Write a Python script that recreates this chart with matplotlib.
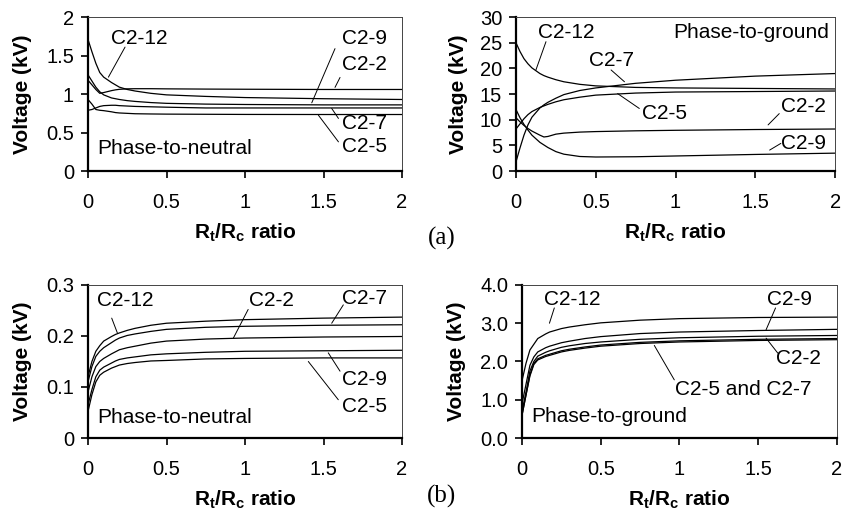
# -*- coding:utf-8 -*-
import numpy as np
import matplotlib as mpl
import matplotlib.pyplot as plt

mpl.rcParams['font.family'] = ['Liberation Sans', 'DejaVu Sans']
mpl.rcParams['mathtext.fontset'] = 'custom'
mpl.rcParams['mathtext.bf'] = 'Liberation Sans:bold'
mpl.rcParams['mathtext.rm'] = 'Liberation Sans'

# Rt/Rc ratio grid (shared by all panels)
ratio = [0, 0.025, 0.05, 0.075, 0.1, 0.15, 0.175, 0.2, 0.25, 0.3, 0.4, 0.5, 0.75, 1.0, 1.5, 2.0]

# (a) phase-to-neutral, kV
an_c212 = [1.71, 1.55, 1.40, 1.28, 1.22, 1.15, 1.12, 1.09, 1.06, 1.04, 1.01, 0.99, 0.97, 0.955, 0.94, 0.93]
an_c22 = [1.18, 1.12, 1.06, 1.01, 1.02, 1.045, 1.055, 1.062, 1.068, 1.07, 1.07, 1.068, 1.065, 1.063, 1.06, 1.06]
an_c29 = [1.25, 1.17, 1.09, 1.03, 0.99, 0.95, 0.94, 0.93, 0.915, 0.905, 0.89, 0.88, 0.87, 0.865, 0.86, 0.86]
an_c27 = [0.79, 0.80, 0.82, 0.84, 0.85, 0.855, 0.855, 0.85, 0.845, 0.84, 0.835, 0.83, 0.82, 0.82, 0.82, 0.82]
an_c25 = [0.93, 0.87, 0.80, 0.79, 0.785, 0.77, 0.76, 0.755, 0.75, 0.745, 0.742, 0.74, 0.738, 0.736, 0.735, 0.735]

# (a) phase-to-ground, kV
ag_c212 = [25.0, 23.3, 21.9, 20.9, 20.1, 19.0, 18.6, 18.3, 17.8, 17.4, 16.9, 16.6, 16.3, 16.2, 16.1, 16.0]
ag_c27 = [1.8, 4.5, 7.0, 9.0, 10.5, 12.3, 12.9, 13.4, 14.2, 14.9, 15.7, 16.2, 17.1, 17.7, 18.5, 19.0]
ag_c25 = [8.2, 9.2, 10.2, 11.0, 11.6, 12.4, 12.7, 13.0, 13.5, 13.9, 14.4, 14.8, 15.2, 15.4, 15.5, 15.6]
ag_c22 = [10.4, 9.6, 8.9, 8.3, 7.8, 7.0, 6.65, 6.75, 7.2, 7.4, 7.6, 7.7, 7.85, 7.95, 8.1, 8.2]
ag_c29 = [12.0, 10.4, 9.1, 8.0, 7.0, 5.6, 5.1, 4.6, 3.8, 3.3, 2.85, 2.75, 2.8, 2.95, 3.25, 3.5]

# (b) phase-to-neutral, kV
bn_c212 = [0.12, 0.15, 0.17, 0.181, 0.19, 0.199, 0.203, 0.206, 0.211, 0.215, 0.221, 0.225, 0.229, 0.232, 0.235, 0.237]
bn_c27 = [0.11, 0.14, 0.16, 0.170, 0.177, 0.187, 0.192, 0.196, 0.201, 0.204, 0.209, 0.213, 0.217, 0.219, 0.221, 0.222]
bn_c22 = [0.09, 0.12, 0.14, 0.150, 0.156, 0.165, 0.169, 0.173, 0.177, 0.180, 0.186, 0.19, 0.194, 0.196, 0.198, 0.199]
bn_c29 = [0.065, 0.095, 0.12, 0.133, 0.139, 0.147, 0.151, 0.154, 0.157, 0.159, 0.163, 0.165, 0.168, 0.17, 0.171, 0.172]
bn_c25 = [0.052, 0.085, 0.11, 0.123, 0.129, 0.137, 0.140, 0.143, 0.146, 0.148, 0.151, 0.152, 0.155, 0.156, 0.157, 0.157]

# (b) phase-to-ground, kV
bg_c212 = [1.5, 1.95, 2.3, 2.45, 2.6, 2.72, 2.77, 2.8, 2.86, 2.9, 2.96, 3.01, 3.08, 3.12, 3.15, 3.16]
bg_c29 = [0.9, 1.4, 1.9, 2.12, 2.25, 2.36, 2.4, 2.43, 2.49, 2.53, 2.6, 2.65, 2.73, 2.77, 2.81, 2.84]
bg_c22 = [0.7, 1.2, 1.75, 2.0, 2.14, 2.24, 2.28, 2.31, 2.37, 2.41, 2.47, 2.51, 2.58, 2.62, 2.66, 2.68]
bg_c25 = [0.6, 1.12, 1.65, 1.95, 2.07, 2.16, 2.19, 2.22, 2.28, 2.32, 2.38, 2.43, 2.5, 2.54, 2.58, 2.6]
bg_c27 = [0.6, 1.12, 1.62, 1.92, 2.04, 2.13, 2.16, 2.19, 2.25, 2.29, 2.35, 2.4, 2.47, 2.51, 2.55, 2.57]

x_ticks = [0, 0.5, 1, 1.5, 2]
x_ticklabels = ['0', '0.5', '1', '1.5', '2']

FS = 15
FS_TICK = 14.5


def style_axes(ax, yticks, yticklabels, ylabel_x):
    ax.set_xlim(0, 2)
    ax.set_ylim(yticks[0], yticks[-1])
    ax.set_xticks(x_ticks)
    ax.set_xticklabels(x_ticklabels)
    ax.set_yticks(yticks)
    ax.set_yticklabels(yticklabels)
    for s in ['left', 'bottom']:
        ax.spines[s].set_linewidth(1.6)
        ax.spines[s].set_color('black')
    for s in ['top', 'right']:
        ax.spines[s].set_linewidth(0.7)
        ax.spines[s].set_color('#444444')
    ax.tick_params(axis='both', direction='out', length=5, width=1.2, labelsize=FS_TICK)
    ax.tick_params(axis='x', pad=11)
    ax.tick_params(axis='y', pad=5)
    ax.set_ylabel('Voltage (kV)', fontsize=FS, fontweight='bold')
    ax.set_xlabel(r'$\mathbf{R_t/R_c}$ ratio', fontsize=FS, fontweight='bold')
    ax.yaxis.set_label_coords(ylabel_x, 0.5)
    ax.xaxis.set_label_coords(0.5, -0.33)


def label(ax, txt, pos, start=None, end=None, ha='center'):
    ax.text(pos[0], pos[1], txt, ha=ha, va='center', fontsize=FS)
    if start is not None:
        ax.annotate('', xy=end, xytext=start,
                    arrowprops=dict(arrowstyle='-', lw=0.7, color='black',
                                    shrinkA=0, shrinkB=0))


fig = plt.figure(figsize=(8.42, 5.17), dpi=100, facecolor='w')
ax1 = fig.add_axes([0.1045, 0.669, 0.373, 0.298])
ax2 = fig.add_axes([0.6128, 0.669, 0.379, 0.298])
ax3 = fig.add_axes([0.1045, 0.1528, 0.373, 0.296])
ax4 = fig.add_axes([0.620, 0.1528, 0.374, 0.296])

lw = 0.9
for yv in [an_c212, an_c22, an_c29, an_c27, an_c25]:
    ax1.plot(ratio, yv, color='black', lw=lw)
for yv in [ag_c212, ag_c27, ag_c25, ag_c22, ag_c29]:
    ax2.plot(ratio, yv, color='black', lw=lw)
for yv in [bn_c212, bn_c27, bn_c22, bn_c29, bn_c25]:
    ax3.plot(ratio, yv, color='black', lw=lw)
for yv in [bg_c212, bg_c29, bg_c22, bg_c25, bg_c27]:
    ax4.plot(ratio, yv, color='black', lw=lw)

style_axes(ax1, [0, 0.5, 1, 1.5, 2], ['0', '0.5', '1', '1.5', '2'], -0.178)
style_axes(ax2, [0, 5, 10, 15, 20, 25, 30], ['0', '5', '10', '15', '20', '25', '30'], -0.15)
style_axes(ax3, [0, 0.1, 0.2, 0.3], ['0', '0.1', '0.2', '0.3'], -0.178)
style_axes(ax4, [0, 1, 2, 3, 4], ['0.0', '1.0', '2.0', '3.0', '4.0'], -0.178)

# panel (a) left
label(ax1, 'C2-12', (0.325, 1.72), (0.236, 1.61), (0.13, 1.22))
label(ax1, 'C2-9', (1.76, 1.72), (1.573, 1.59), (1.425, 0.887))
label(ax1, 'C2-2', (1.76, 1.38), (1.605, 1.216), (1.573, 1.087))
label(ax1, 'C2-7', (1.76, 0.62), (1.595, 0.684), (1.552, 0.814))
label(ax1, 'C2-5', (1.76, 0.316), (1.595, 0.38), (1.467, 0.727))
label(ax1, 'Phase-to-neutral', (0.057, 0.30), ha='left')

# panel (a) right
label(ax2, 'C2-12', (0.317, 27.0), (0.188, 25.2), (0.125, 19.7))
label(ax2, 'Phase-to-ground', (1.96, 27.0), ha='right')
label(ax2, 'C2-7', (0.60, 21.6), (0.596, 19.7), (0.68, 17.4))
label(ax2, 'C2-5', (0.93, 11.2), (0.773, 12.2), (0.637, 15.1))
label(ax2, 'C2-2', (1.80, 12.5), (1.65, 11.2), (1.58, 9.0))
label(ax2, 'C2-9', (1.80, 5.4), (1.66, 5.4), (1.59, 4.1))

# panel (b) left
label(ax3, 'C2-12', (0.236, 0.269), (0.151, 0.235), (0.187, 0.206))
label(ax3, 'C2-2', (1.17, 0.269), (1.02, 0.252), (0.926, 0.196))
label(ax3, 'C2-7', (1.76, 0.274), (1.626, 0.261), (1.552, 0.225))
label(ax3, 'C2-9', (1.76, 0.114), (1.605, 0.131), (1.53, 0.167))
label(ax3, 'C2-5', (1.76, 0.062), (1.594, 0.075), (1.403, 0.150))
label(ax3, 'Phase-to-neutral', (0.057, 0.041), ha='left')

# panel (b) right
label(ax4, 'C2-12', (0.322, 3.62), (0.205, 3.40), (0.174, 3.0))
label(ax4, 'C2-9', (1.70, 3.62), (1.61, 3.4), (1.55, 2.83))
label(ax4, 'C2-2', (1.755, 2.09), (1.624, 2.22), (1.55, 2.61))
label(ax4, 'C2-5 and C2-7', (1.406, 1.26), (0.967, 1.52), (0.84, 2.42))
label(ax4, 'Phase-to-ground', (0.057, 0.55), ha='left')

fig.text(442 / 842, 1 - 238 / 517, '(a)', ha='center', va='center',
         fontsize=18, family=['Liberation Serif', 'DejaVu Serif'])
fig.text(442 / 842, 1 - 496 / 517, '(b)', ha='center', va='center',
         fontsize=18, family=['Liberation Serif', 'DejaVu Serif'])

fig.savefig('out.png', dpi=100, facecolor='w')
